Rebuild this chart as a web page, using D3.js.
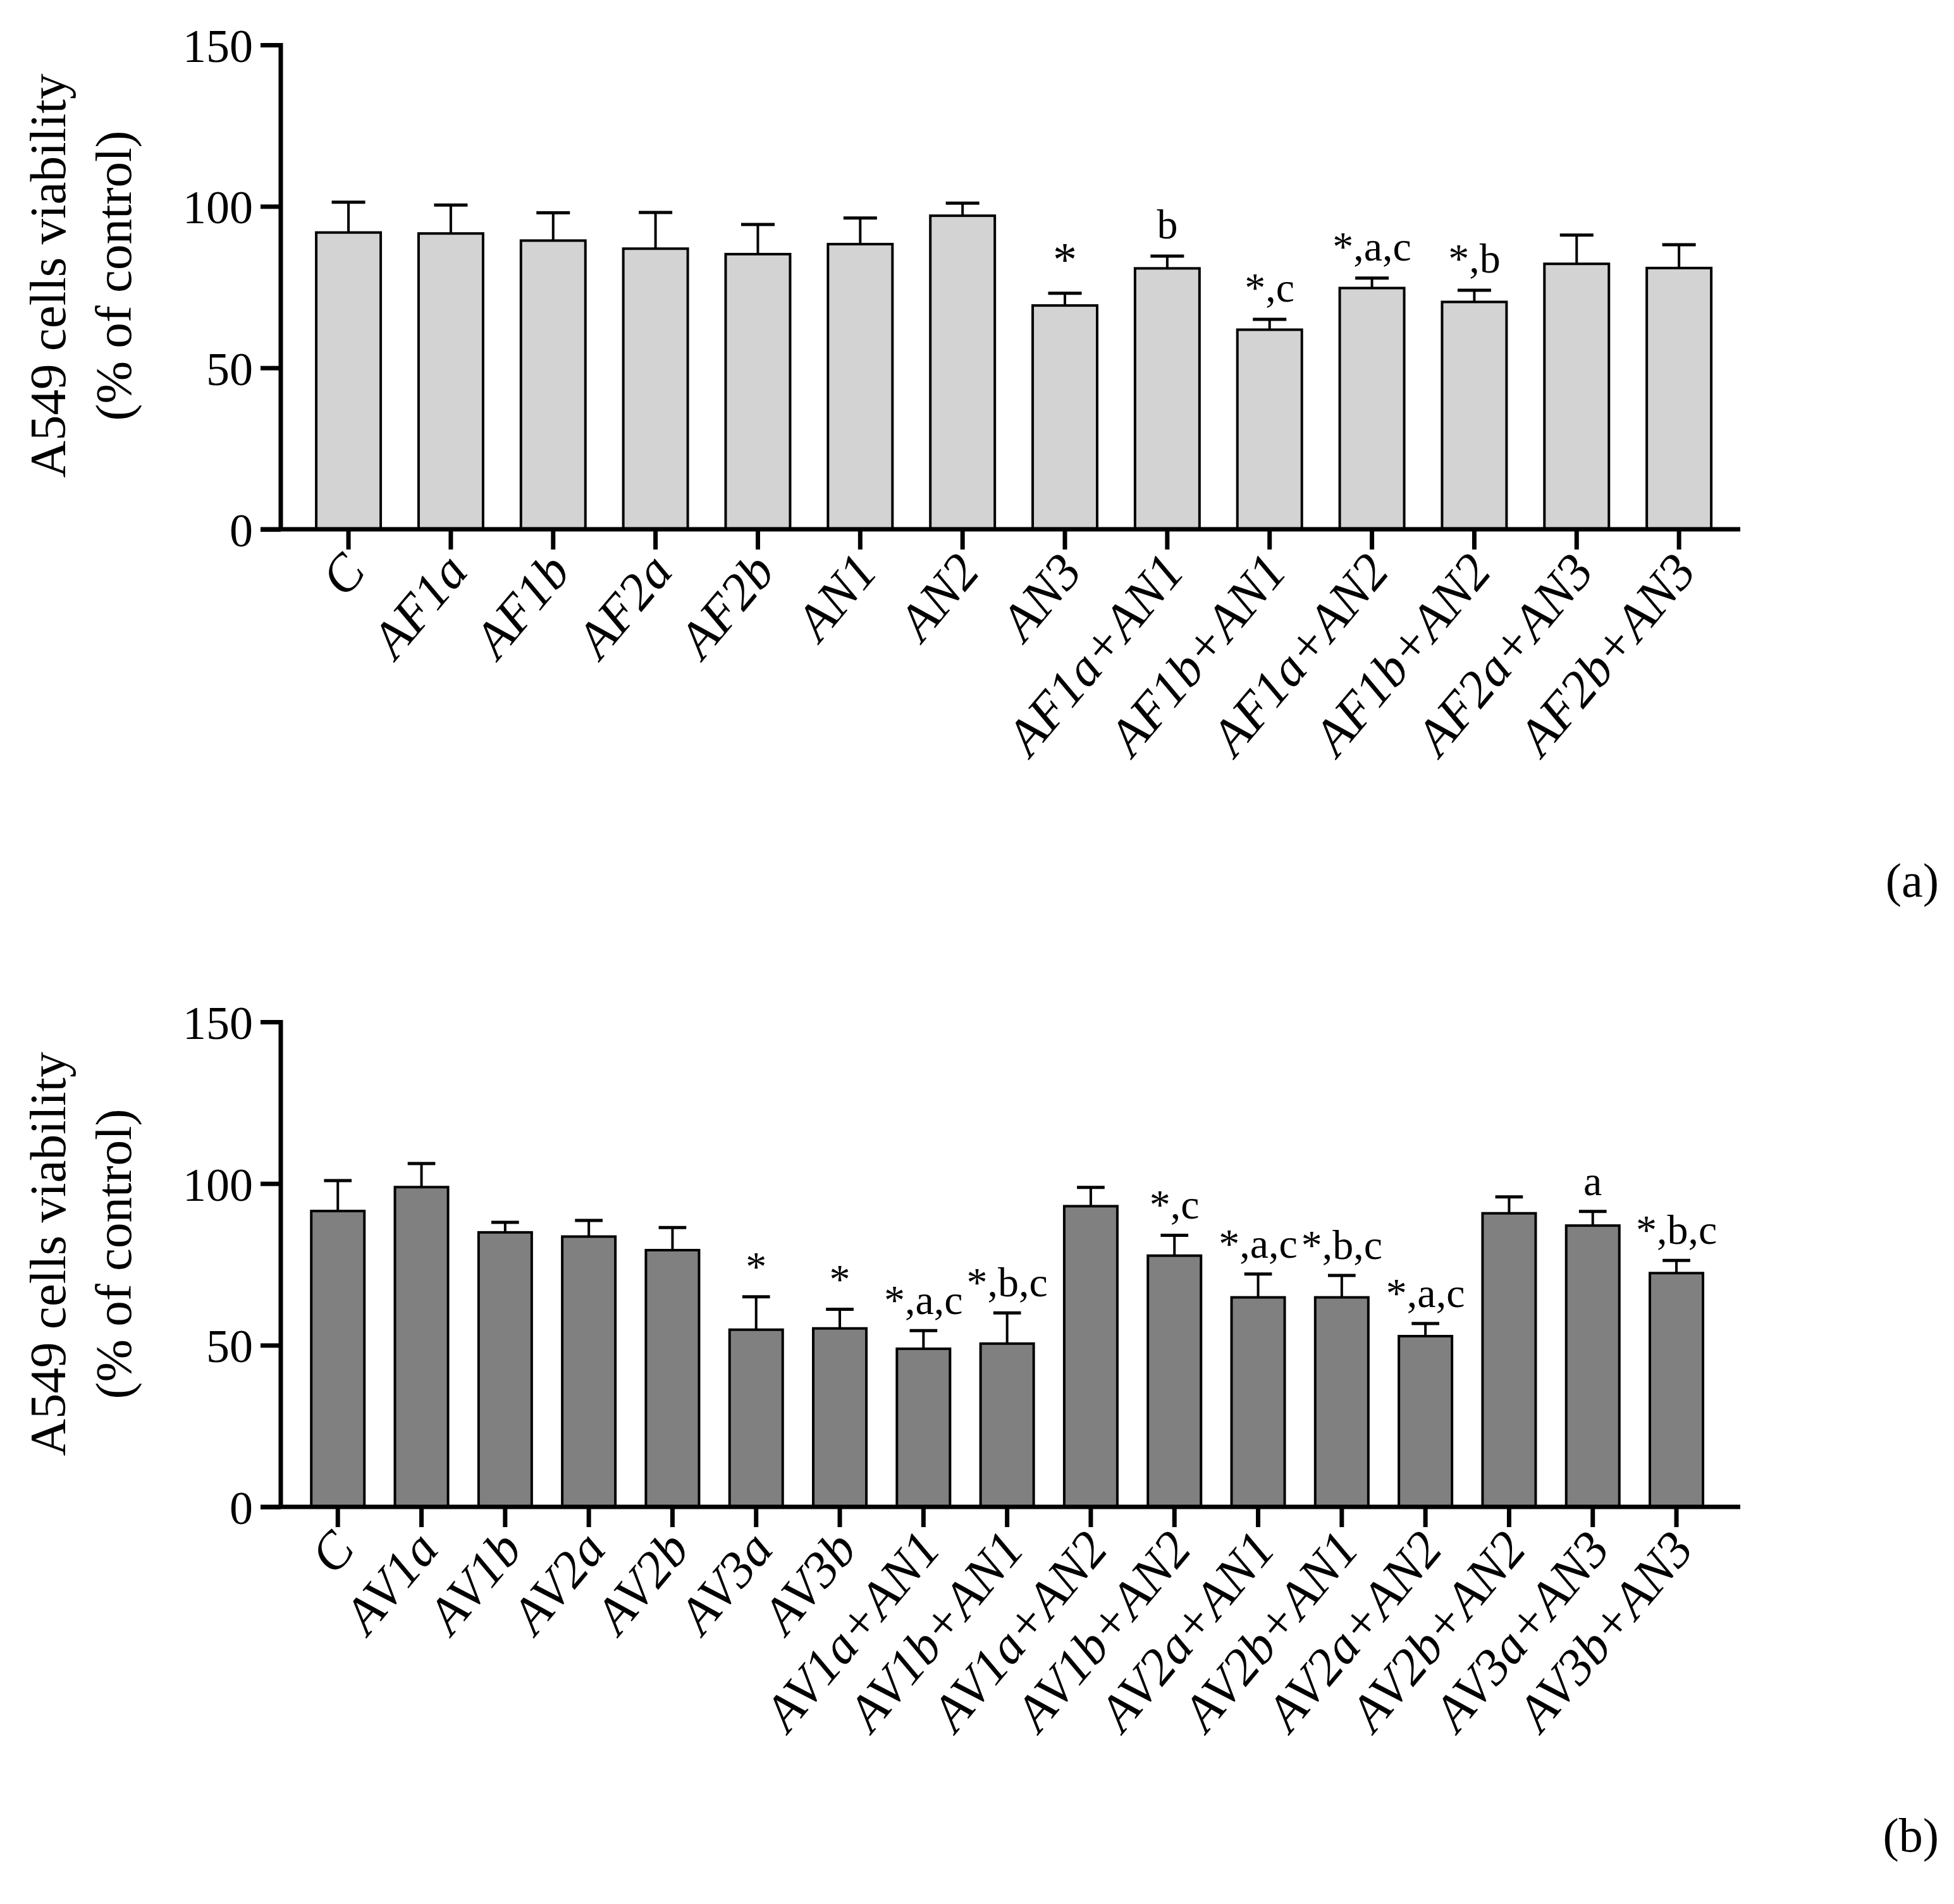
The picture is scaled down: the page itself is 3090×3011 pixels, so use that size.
<!DOCTYPE html>
<html>
<head>
<meta charset="utf-8">
<script src="https://cdn.jsdelivr.net/npm/d3@7"></script>
<style>
  html, body { margin: 0; padding: 0; background: #fff; }
  svg { display: block; }
  text { font-family: "Liberation Serif", "Times New Roman", serif; fill: #000; }
</style>
</head>
<body>
<svg id="chart" width="3090" height="3011"></svg>
<script>
// ---------- Panel (a) data ----------
const catsA = ["C","AF1a","AF1b","AF2a","AF2b","AN1","AN2","AN3",
  "AF1a+AN1","AF1b+AN1","AF1a+AN2","AF1b+AN2","AF2a+AN3","AF2b+AN3"];
const meansA = [91.9, 91.6, 89.4, 86.9, 85.2, 88.3, 97.1, 69.3, 80.8, 61.8, 74.7, 70.4, 82.2, 80.9];
const errA   = [9.4, 8.8, 8.6, 11.2, 9.2, 8.1, 3.9, 3.8, 3.8, 3.2, 3.1, 3.6, 8.9, 7.2];
const sigA   = ["", "", "", "", "", "", "", "*", "b", "*,c", "*,a,c", "*,b", "", ""];

// ---------- Panel (b) data ----------
const catsB = ["C","AV1a","AV1b","AV2a","AV2b","AV3a","AV3b",
  "AV1a+AN1","AV1b+AN1","AV1a+AN2","AV1b+AN2","AV2a+AN1","AV2b+AN1",
  "AV2a+AN2","AV2b+AN2","AV3a+AN3","AV3b+AN3"];
const meansB = [91.5, 98.9, 84.9, 83.6, 79.4, 54.8, 55.2, 48.9, 50.5, 93.0, 77.7, 64.8, 64.8, 52.8, 90.8, 87.0, 72.3];
const errB   = [9.4, 7.3, 3.1, 5.0, 7.0, 10.2, 5.9, 5.6, 9.5, 5.8, 6.3, 7.2, 6.8, 3.9, 5.1, 4.4, 3.9];
const sigB   = ["", "", "", "", "", "*", "*", "*,a,c", "*,b,c", "", "*,c", "*,a,c", "*,b,c", "*,a,c", "", "a", "*,b,c"];

const yTicks = [0, 50, 100, 150];
const yTitle1 = "A549 cells viability";
const yTitle2 = "(% of control)";
const panelTags = ["(a)", "(b)"];

const svg = d3.select("#chart");

function drawPanel(cfg) {
  const g = svg.append("g");
  const y = d3.scaleLinear().domain([0, 150]).range([cfg.y0, cfg.y150]);
  const x = d3.scaleBand().domain(cfg.cats).range([444, 2752])
    .paddingInner(cfg.pIn).paddingOuter(cfg.pOut).align(cfg.align);

  // bars
  g.selectAll("rect.bar").data(cfg.cats).join("rect")
    .attr("class", "bar")
    .attr("x", d => x(d))
    .attr("width", x.bandwidth())
    .attr("y", (d, i) => y(cfg.means[i]))
    .attr("height", (d, i) => y(0) - y(cfg.means[i]))
    .attr("fill", cfg.fill)
    .attr("stroke", "#000")
    .attr("stroke-width", 4);

  // error bars (upper only)
  const capHalf = x.bandwidth() * 0.26;
  const eb = g.selectAll("g.err").data(cfg.cats).join("g").attr("class", "err");
  eb.append("line")
    .attr("x1", d => x(d) + x.bandwidth() / 2)
    .attr("x2", d => x(d) + x.bandwidth() / 2)
    .attr("y1", (d, i) => y(cfg.means[i]))
    .attr("y2", (d, i) => y(cfg.means[i] + cfg.errs[i]))
    .attr("stroke", "#000").attr("stroke-width", 4);
  eb.append("line")
    .attr("x1", d => x(d) + x.bandwidth() / 2 - capHalf)
    .attr("x2", d => x(d) + x.bandwidth() / 2 + capHalf)
    .attr("y1", (d, i) => y(cfg.means[i] + cfg.errs[i]))
    .attr("y2", (d, i) => y(cfg.means[i] + cfg.errs[i]))
    .attr("stroke", "#000").attr("stroke-width", 5);

  // significance labels
  g.selectAll("text.sig").data(cfg.cats).join("text")
    .attr("class", "sig")
    .attr("x", d => x(d) + x.bandwidth() / 2)
    .attr("y", (d, i) => y(cfg.means[i] + cfg.errs[i]) - cfg.sigGap)
    .attr("text-anchor", "middle")
    .attr("font-size", (d, i) => cfg.sigs[i] === "*" && cfg.bigStar ? 76 : 66)
    .text((d, i) => cfg.sigs[i]);

  // y axis
  const yAxis = d3.axisLeft(y).tickValues(yTicks).tickSize(32).tickPadding(12).tickSizeOuter(0);
  const ya = g.append("g").attr("transform", "translate(444,0)").call(yAxis);
  ya.select(".domain").attr("stroke-width", 7).attr("d", `M0,${cfg.y150 - 3}V${cfg.y0}`);
  ya.selectAll(".tick line").attr("stroke-width", 7);
  ya.selectAll(".tick text").attr("font-size", 74)
    .attr("font-family", "Liberation Serif").attr("dy", "0.36em");

  // x axis
  const xAxis = d3.axisBottom(x).tickSize(32).tickSizeOuter(0).tickFormat("");
  const xa = g.append("g").attr("transform", `translate(0,${cfg.y0})`).call(xAxis);
  xa.select(".domain").attr("stroke-width", 7).attr("d", "M412,0H2752");
  xa.selectAll(".tick line").attr("stroke-width", 7);

  // rotated x labels
  g.selectAll("text.xl").data(cfg.cats).join("text")
    .attr("class", "xl")
    .attr("transform", d => `translate(${x(d) + x.bandwidth() / 2 + 8},${cfg.y0 + 50}) rotate(-50)`)
    .attr("text-anchor", "end")
    .attr("dy", "0.35em")
    .attr("font-size", 82)
    .attr("font-style", "italic")
    .text(d => d);

  // y title
  const cy = cfg.titleCy;
  g.append("text")
    .attr("transform", `translate(103,${cy}) rotate(-90)`)
    .attr("text-anchor", "middle").attr("font-size", 81)
    .text(yTitle1);
  g.append("text")
    .attr("transform", `translate(207,${cy}) rotate(-90)`)
    .attr("text-anchor", "middle").attr("font-size", 81)
    .text(yTitle2);

  // panel tag
  g.append("text").attr("x", 3066).attr("y", cfg.tagY)
    .attr("text-anchor", "end").attr("font-size", 76)
    .text(cfg.tag);
}

drawPanel({
  cats: catsA, means: meansA, errs: errA, sigs: sigA,
  y0: 837, y150: 71, fill: "#d3d3d3",
  pIn: 0.37, pOut: 0.315, align: 0.55, sigGap: 28, bigStar: true,
  titleCy: 436, tag: panelTags[0], tagY: 1418
});
drawPanel({
  cats: catsB, means: meansB, errs: errB, sigs: sigB,
  y0: 2383, y150: 1616, fill: "#808080",
  pIn: 0.365, pOut: 0.405, align: 0.45, sigGap: 26, bigStar: false,
  titleCy: 1983, tag: panelTags[1], tagY: 2928
});
</script>
</body>
</html>
